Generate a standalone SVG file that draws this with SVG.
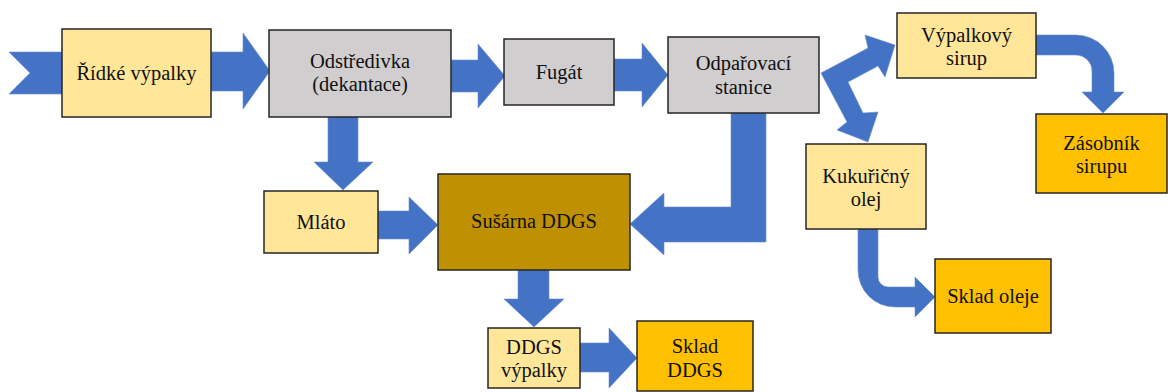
<svg xmlns="http://www.w3.org/2000/svg" width="1168" height="392" viewBox="0 0 1168 392">
  <style>
    .box { stroke: #262626; stroke-width: 1.5; }
    .light { fill: #FFE699; }
    .grey { fill: #D0CECE; }
    .gold { fill: #FFC000; }
    .dark { fill: #BF9000; }
    .arrow { fill: #4472C4; stroke: #6A8FD6; stroke-width: 0.6; }
  </style>

  <!-- flow arrows -->
  <g id="connectors">
    <!-- inlet chevron -->
    <polygon class="arrow" points="9,52 70,52 70,94 9,94 30,73"/>
    <!-- Řídké výpalky -> Odstředivka -->
    <polygon class="arrow" points="211,52 243,52 243,33 270,71 243,109 243,91 211,91"/>
    <!-- Odstředivka -> Fugát -->
    <polygon class="arrow" points="451,60 478,60 478,44 505,76 478,108 478,92 451,92"/>
    <!-- Fugát -> Odpařovací stanice -->
    <polygon class="arrow" points="614,59 642,59 642,43 668,75 642,107 642,91 614,91"/>
    <!-- Odstředivka -> Mláto -->
    <polygon class="arrow" points="328,117 358,117 358,162 373,162 343,190 314,162 328,162"/>
    <!-- Mláto -> Sušárna DDGS -->
    <polygon class="arrow" points="378,211 409,211 409,197 438,225 409,254 409,239 378,239"/>
    <!-- Odpařovací stanice -> Sušárna DDGS -->
    <polygon class="arrow" points="731,113 766,113 766,242 664,242 664,255 630,224 664,193 664,207 731,207"/>
    <!-- Sušárna DDGS -> DDGS výpalky -->
    <polygon class="arrow" points="518,270 549,270 549,299 564,299 534,327 504,299 518,299"/>
    <!-- DDGS výpalky -> Sklad DDGS -->
    <polygon class="arrow" points="580,343 609,343 609,328 637,358 609,388 609,372 580,372"/>
    <!-- Odpařovací stanice -> Výpalkový sirup / Kukuřičný olej -->
    <polygon class="arrow" points="821,73 868,48 865,35 895,45 885,77 878,66 848,82 863,113 878,112 868,142 837,130 847,122"/>
    <!-- Výpalkový sirup -> Zásobník sirupu -->
    <path class="arrow" d="M1036,35 H1076 A38,38 0 0 1 1114,73 V92 H1124 L1103,113 L1082,92 H1092 V71 A16,16 0 0 0 1076,55 H1036 Z"/>
    <!-- Kukuřičný olej -> Sklad oleje -->
    <path class="arrow" d="M858,229 H878 V277 A10,10 0 0 0 888,287 H915 V277 L935,297 L915,317 V307 H895 A37,37 0 0 1 858,270 Z"/>
  </g>

  <g font-family="Liberation Serif, DejaVu Serif, serif" font-size="20.5" fill="#111" text-anchor="middle">
    <g id="ridke-vypalky">
      <rect class="box light" x="62" y="29" width="149" height="88"/>
      <text x="136.5" y="80">Řídké výpalky</text>
    </g>
    <g id="odstredivka">
      <rect class="box grey" x="269" y="30" width="182" height="87"/>
      <text x="360" y="68">Odstředivka</text>
      <text x="360" y="91">(dekantace)</text>
    </g>
    <g id="fugat">
      <rect class="box grey" x="504" y="39" width="110" height="66"/>
      <text x="559" y="79">Fugát</text>
    </g>
    <g id="odparovaci-stanice">
      <rect class="box grey" x="668" y="37" width="151" height="76"/>
      <text x="743.5" y="70">Odpařovací</text>
      <text x="743.5" y="94">stanice</text>
    </g>
    <g id="vypalkovy-sirup">
      <rect class="box light" x="897" y="13" width="139" height="65"/>
      <text x="966.5" y="41.5">Výpalkový</text>
      <text x="966.5" y="64.5">sirup</text>
    </g>
    <g id="zasobnik-sirupu">
      <rect class="box gold" x="1036" y="114" width="131" height="79"/>
      <text x="1101.5" y="150">Zásobník</text>
      <text x="1101.5" y="173">sirupu</text>
    </g>
    <g id="mlato">
      <rect class="box light" x="264" y="191" width="114" height="62"/>
      <text x="321" y="229">Mláto</text>
    </g>
    <g id="susarna-ddgs">
      <rect class="box dark" x="438" y="174" width="192" height="96"/>
      <text x="534" y="228">Sušárna DDGS</text>
    </g>
    <g id="kukuricny-olej">
      <rect class="box light" x="806" y="144" width="120" height="85"/>
      <text x="866" y="183">Kukuřičný</text>
      <text x="866" y="206">olej</text>
    </g>
    <g id="sklad-oleje">
      <rect class="box gold" x="935" y="259" width="116" height="74"/>
      <text x="993" y="303">Sklad oleje</text>
    </g>
    <g id="ddgs-vypalky">
      <rect class="box light" x="488" y="328" width="92" height="60"/>
      <text x="534" y="354">DDGS</text>
      <text x="534" y="377">výpalky</text>
    </g>
    <g id="sklad-ddgs">
      <rect class="box gold" x="637" y="321" width="116" height="70"/>
      <text x="695" y="353">Sklad</text>
      <text x="695" y="377">DDGS</text>
    </g>
  </g>
</svg>
